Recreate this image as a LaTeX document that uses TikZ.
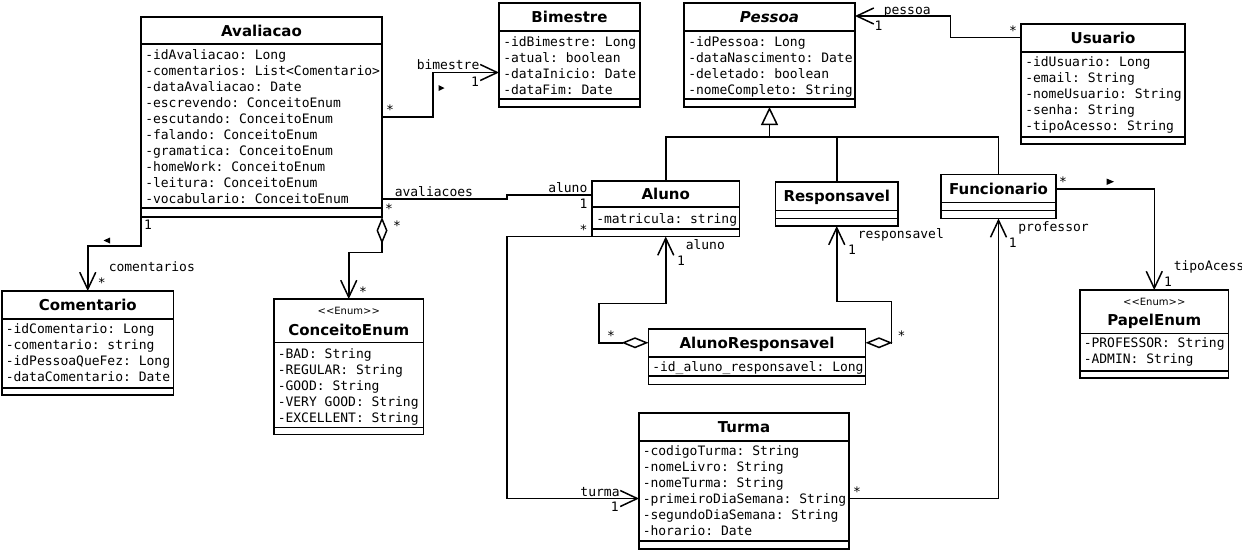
\documentclass[tikz,border=0pt]{standalone}
\usepackage{fontspec}
\setmainfont{DejaVu Sans}
\setmonofont{DejaVu Sans Mono}
\usetikzlibrary{arrows.meta}
\usetikzlibrary{positioning}

\tikzset{
    classbox/.style={draw, inner sep=0pt, outer sep=0pt, anchor=north west},
    classname/.style={anchor=base, inner sep=0pt, font=\fontsize{15}{18}\selectfont\bfseries},
    stereo/.style={anchor=base, inner sep=0pt, font=\fontsize{10}{12}\selectfont},
    attr/.style={anchor=base west, inner sep=0pt, font=\ttfamily\fontsize{13}{16}\selectfont},
    role/.style={anchor=base west, inner sep=0pt, font=\ttfamily\fontsize{13}{16}\selectfont},
    mult/.style={anchor=base, inner sep=0pt, font=\ttfamily\fontsize{13}{16}\selectfont},
    assoc/.style={-{Straight Barb[length=17pt,width=16pt]}},
    aggr/.style={{Diamond[open,length=27pt,width=11pt]}-{Straight Barb[length=17pt,width=16pt]}},
    inherit/.style={-{Triangle[open,length=18pt,width=17pt]}},
}

\begin{document}
\begin{tikzpicture}[x=1pt, y=-1pt, line width=1.5pt]
        \useasboundingbox (0,0) rectangle (1242,550);

        % Avaliacao
        \node[classbox, minimum width=241pt, minimum height=200pt] (avaliacao) at (141,17) {};
        \draw (141,44) -- (382,44) (141,208) -- (382,208);
        \node[classname] at (261.5,36) {Avaliacao};
        \foreach \a [count=\i from 0] in {-idAvaliacao: Long, -comentarios: List<Comentario>,
            -dataAvaliacao: Date, -escrevendo: ConceitoEnum, -escutando: ConceitoEnum,
            -falando: ConceitoEnum, -gramatica: ConceitoEnum, -homeWork: ConceitoEnum,
            -leitura: ConceitoEnum, -vocabulario: ConceitoEnum} {
            \node[attr] at (144.5,59.5+16*\i) {\a};
        }

        % Bimestre
        \node[classbox, minimum width=141pt, minimum height=104pt] (bimestre) at (499,3) {};
        \draw (499,31) -- (640,31) (499,99) -- (640,99);
        \node[classname] at (569.5,22.5) {Bimestre};
        \foreach \a [count=\i from 0] in {-idBimestre: Long, -atual: boolean, -dataInicio: Date, -dataFim: Date} {
            \node[attr] at (502.5,46+16*\i) {\a};
        }

        % Pessoa (abstract)
        \node[classbox, minimum width=171pt, minimum height=104pt] (pessoa) at (684,3) {};
        \draw (684,31) -- (855,31) (684,99) -- (855,99);
        \node[classname, font=\fontsize{15}{18}\selectfont\bfseries\itshape] at (769.5,22.5) {Pessoa};
        \foreach \a [count=\i from 0] in {-idPessoa: Long, -dataNascimento: Date, -deletado: boolean, -nomeCompleto: String} {
            \node[attr] at (687.5,46+16*\i) {\a};
        }

        % Usuario
        \node[classbox, minimum width=164pt, minimum height=120pt] (usuario) at (1021,24) {};
        \draw (1021,52) -- (1185,52) (1021,137) -- (1185,137);
        \node[classname] at (1103,43.5) {Usuario};
        \foreach \a [count=\i from 0] in {-idUsuario: Long, -email: String, -nomeUsuario: String, -senha: String, -tipoAcesso: String} {
            \node[attr] at (1024.5,66.5+16*\i) {\a};
        }

        % Aluno
        \node[classbox, minimum width=147.5pt, minimum height=55.5pt] (aluno) at (592,181) {};
        \draw (592,207) -- (739.5,207) (592,229) -- (739.5,229);
        \node[classname] at (665.75,199.5) {Aluno};
        \node[attr] at (595.5,223) {-matricula: string};

        % Responsavel
        \node[classbox, minimum width=122.5pt, minimum height=44pt] (responsavel) at (775.5,182) {};
        \draw (775.5,210.5) -- (898,210.5) (775.5,218.5) -- (898,218.5);
        \node[classname] at (836.75,201.7) {Responsavel};

        % Funcionario
        \node[classbox, minimum width=115pt, minimum height=44pt] (funcionario) at (941,174.5) {};
        \draw (941,202.5) -- (1056,202.5) (941,210.5) -- (1056,210.5);
        \node[classname] at (998.5,194) {Funcionario};

        % Comentario
        \node[classbox, minimum width=171.5pt, minimum height=104pt] (comentario) at (2,291) {};
        \draw (2,319) -- (173.5,319) (2,388) -- (173.5,388);
        \node[classname] at (87.75,310.5) {Comentario};
        \foreach \a [count=\i from 0] in {-idComentario: Long, -comentario: string, -idPessoaQueFez: Long, -dataComentario: Date} {
            \node[attr] at (5,333.5+16*\i) {\a};
        }

        % ConceitoEnum
        \node[classbox, minimum width=149.5pt, minimum height=135.5pt] (conceito) at (274,299) {};
        \draw (274,342.5) -- (423.5,342.5) (274,427.5) -- (423.5,427.5);
        \node[stereo] at (348.75,314.6) {<\kern0pt<Enum>\kern0pt>};
        \node[classname] at (348.75,335.5) {ConceitoEnum};
        \foreach \a [count=\i from 0] in {-BAD: String, -REGULAR: String, -GOOD: String, -VERY GOOD: String, -EXCELLENT: String} {
            \node[attr] at (277,358+16*\i) {\a};
        }

        % AlunoResponsavel
        \node[classbox, minimum width=217pt, minimum height=55.5pt] (alunoresp) at (648.5,329) {};
        \draw (648.5,357) -- (865.5,357) (648.5,376) -- (865.5,376);
        \node[classname] at (757,348.5) {AlunoResponsavel};
        \node[attr] at (651.5,371) {-id\_aluno\_responsavel: Long};

        % Turma
        \node[classbox, minimum width=210pt, minimum height=136pt] (turma) at (639,413) {};
        \draw (639,441) -- (849,441) (639,541) -- (849,541);
        \node[classname] at (744,432.5) {Turma};
        \foreach \a [count=\i from 0] in {-codigoTurma: String, -nomeLivro: String, -nomeTurma: String,
            -primeiroDiaSemana: String, -segundoDiaSemana: String, -horario: Date} {
            \node[attr] at (642,455.5+16*\i) {\a};
        }

        % PapelEnum
        \node[classbox, minimum width=148.5pt, minimum height=88pt] (papel) at (1080,290) {};
        \draw (1080,333.5) -- (1228.5,333.5) (1080,371) -- (1228.5,371);
        \node[stereo] at (1154.25,305.3) {<\kern0pt<Enum>\kern0pt>};
        \node[classname] at (1154.25,325) {PapelEnum};
        \foreach \a [count=\i from 0] in {-PROFESSOR: String, -ADMIN: String} {
            \node[attr] at (1083,347.5+16*\i) {\a};
        }

        % Avaliacao -> Bimestre
        \draw[assoc] (avaliacao.east) -- ++(51,0) |- ([yshift=-17.5pt]bimestre.west);
        \node[role] at (416,69.5) {bimestre};
        \node[mult] at (475,86.5) {1};
        \node[mult] at (390,114.5) {*};
        \fill (438.5,85) -- (444.5,88) -- (438.5,91) -- cycle;

        % Avaliacao -- Aluno
        \draw ([yshift=-82pt]avaliacao.east) -- ++(125,0) |- ([yshift=13.75pt]aluno.west);
        \node[role] at (394,196) {avaliacoes};
        \node[mult] at (389,213.5) {*};
        \node[role] at (547.5,192.5) {aluno};
        \node[mult] at (583.5,208) {1};

        % Avaliacao -> Comentario
        \draw[assoc] (avaliacao.south west) -- ++(0,29) -| (comentario.north);
        \node[mult] at (148,229.5) {1};
        \node[role] at (108,271) {comentarios};
        \node[mult] at (101.7,287.5) {*};
        \fill (110,237.5) -- (103.5,240.5) -- (110,243.5) -- cycle;

        % Avaliacao <>-> ConceitoEnum
        \draw[aggr] (avaliacao.south east) -- ++(0,35.5) -| (conceito.north);
        \node[mult] at (397,230) {*};
        \node[mult] at (363,296.5) {*};

        % Usuario -> Pessoa
        \draw[assoc] ([yshift=46.5pt]usuario.west) -- ++(-70.5,0) |- ([yshift=39pt]pessoa.east);
        \node[role] at (883,14.5) {pessoa};
        \node[mult] at (878.5,30.5) {1};
        \node[mult] at (1013,35.5) {*};

        % Generalization to Pessoa
        \coordinate (gen) at ([yshift=-30pt]pessoa.south);
        \draw (aluno.north) |- (gen) -| (funcionario.north);
        \draw (responsavel.north) -- (responsavel.north |- gen);
        \draw[inherit] (gen) -- (pessoa.south);

        % Aluno -> Turma
        \draw[assoc] (aluno.south west) -- ++(-85,0) |- ([yshift=-17.5pt]turma.west);
        \node[mult] at (583.5,234.5) {*};
        \node[role] at (579.7,496) {turma};
        \node[mult] at (614.7,511.5) {1};

        % AlunoResponsavel <>-> Aluno
        \draw[aggr] ([yshift=14pt]alunoresp.west) -- ++(-49.5,0) |- ([yshift=-67pt]aluno.south) -- (aluno.south);
        \node[role] at (685,249.5) {aluno};
        \node[mult] at (681,265.3) {1};
        \node[mult] at (611,340.5) {*};

        % AlunoResponsavel <>-> Responsavel
        \draw[aggr] ([yshift=14pt]alunoresp.east) -- ++(26,0) |- ([yshift=-75.5pt]responsavel.south) -- (responsavel.south);
        \node[role] at (857,238.5) {responsavel};
        \node[mult] at (852,254.5) {1};
        \node[mult] at (901.5,340.5) {*};

        % Turma -> Funcionario
        \draw[assoc] ([yshift=-17.5pt]turma.east) -| (funcionario.south);
        \node[mult] at (857,496.5) {*};
        \node[role] at (1017.6,231) {professor};
        \node[mult] at (1012.8,247.3) {1};

        % Funcionario -> PapelEnum
        \draw[assoc] ([yshift=7.5pt]funcionario.east) -| (papel.north);
        \node[mult] at (1063,186.5) {*};
        \fill (1106.5,178.5) -- (1114,181.7) -- (1106.5,185) -- cycle;
        \node[role] at (1173,270.5) {tipoAcesso};
        \node[mult] at (1168,286.5) {1};

    \end{tikzpicture}
\end{document}
